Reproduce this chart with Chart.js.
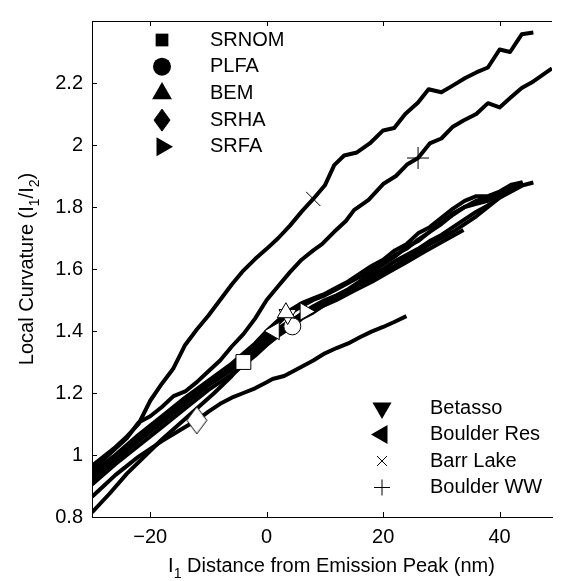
<!DOCTYPE html>
<html>
<head>
<meta charset="utf-8">
<script src="https://cdn.jsdelivr.net/npm/chart.js@4.4.1/dist/chart.umd.min.js"></script>
<style>
  html, body { margin: 0; padding: 0; background: #fff; }
  #wrap { width: 566px; height: 581px; }
</style>
</head>
<body>
<div id="wrap"><canvas id="curvatureChart"></canvas></div>
<script>
// Samples, drawn in this order
var sampleNames = ['SRNOM', 'PLFA', 'BEM', 'SRHA', 'SRFA', 'Betasso', 'Boulder Res', 'Barr Lake', 'Boulder WW'];

// [distance from emission peak (nm), local curvature I1/I2]
var srnom = [[-30,0.93],[-26,0.995],[-22,1.06],[-18,1.12],[-14,1.18],[-10,1.235],[-6,1.28],[-4,1.30],[-2,1.33],[0,1.36],[2,1.39],[4,1.42],[6,1.45],[8,1.47],[10,1.49],[12,1.51],[14,1.53],[16,1.555],[18,1.58],[20,1.60],[22,1.625],[24,1.645],[26,1.665],[28,1.69],[30,1.71],[32,1.735],[34,1.76],[36,1.785],[38,1.805],[40,1.83],[42,1.85],[44,1.87],[45.8,1.879]];
var plfa = [[-30,0.905],[-26,0.97],[-22,1.03],[-18,1.09],[-14,1.15],[-10,1.21],[-6,1.26],[-2,1.32],[0,1.355],[2,1.385],[4.4,1.415],[6,1.44],[8,1.46],[10,1.485],[12,1.505],[14,1.525],[16,1.545],[18,1.57],[20,1.59],[22,1.61],[24,1.635],[26,1.655],[28,1.68],[30,1.70],[32,1.72],[34,1.745],[36,1.77],[38,1.80],[40,1.83],[42,1.86],[43.8,1.875]];
var bem = [[-30,0.943],[-26,1.0],[-22,1.065],[-18,1.125],[-14,1.185],[-10,1.24],[-6,1.295],[-2,1.36],[0,1.40],[2,1.435],[3.3,1.459],[6,1.49],[8,1.505],[10,1.52],[12,1.54],[14,1.56],[16,1.585],[18,1.61],[20,1.63],[22,1.66],[24,1.68],[26,1.715],[28,1.735],[30,1.765],[32,1.795],[34,1.82],[36,1.835],[38,1.835],[40,1.85],[42,1.872],[43.8,1.879]];
var srha = [[-30,0.865],[-28,0.9],[-26,0.935],[-24,0.965],[-22,0.995],[-20,1.02],[-18,1.045],[-16,1.068],[-14,1.09],[-12,1.112],[-10,1.14],[-8,1.165],[-6,1.185],[-4,1.2],[-2,1.215],[0,1.235],[1,1.245],[3,1.255],[6,1.285],[8,1.305],[10,1.328],[12,1.345],[14,1.36],[16,1.38],[18,1.398],[20,1.413],[22,1.43],[24,1.448]];
var srfa = [[-30,0.918],[-26,0.98],[-22,1.045],[-18,1.105],[-14,1.165],[-10,1.225],[-6,1.275],[-2,1.335],[0,1.37],[2,1.40],[4,1.43],[6.6,1.463],[8,1.48],[10,1.50],[12,1.515],[14,1.535],[16,1.56],[18,1.59],[20,1.615],[22,1.64],[24,1.67],[26,1.69],[28,1.72],[30,1.745],[32,1.775],[34,1.80],[36,1.81],[38,1.82],[40,1.84],[42,1.86],[44,1.875]];
var betasso = [[-30,0.925],[-26,0.99],[-22,1.055],[-18,1.11],[-14,1.17],[-10,1.23],[-6,1.29],[-2,1.35],[0,1.39],[2,1.425],[3.6,1.453],[6,1.48],[8,1.50],[10,1.515],[12,1.535],[14,1.555],[16,1.575],[18,1.60],[20,1.62],[22,1.645],[24,1.665],[26,1.695],[28,1.72],[30,1.75],[32,1.78],[34,1.80],[36,1.82],[38,1.83],[40,1.845],[42,1.865],[44,1.88]];
var boulderRes = [[-30,0.815],[-27,0.875],[-24,0.94],[-21,0.995],[-18,1.05],[-15,1.10],[-12,1.15],[-9,1.20],[-6,1.255],[-3,1.315],[0,1.375],[1.3,1.40],[3,1.42],[6,1.45],[9,1.475],[12,1.50],[15,1.53],[18,1.558],[21,1.59],[24,1.622],[27,1.655],[30,1.686],[33.8,1.726]];
var barrLake = [[-30,0.965],[-28,0.995],[-26,1.025],[-24,1.06],[-22,1.10],[-20,1.175],[-18,1.23],[-16,1.28],[-14,1.355],[-12,1.405],[-10,1.45],[-8,1.50],[-6,1.55],[-4,1.595],[-2,1.632],[0,1.665],[2,1.70],[4,1.74],[6,1.785],[8,1.826],[10,1.87],[11.6,1.935],[13.3,1.966],[15.5,1.976],[17.7,2.005],[20,2.047],[21.9,2.055],[23.8,2.10],[26,2.137],[27.8,2.18],[30,2.17],[31.8,2.19],[34.1,2.216],[36,2.234],[38,2.25],[40,2.308],[41.8,2.30],[43.8,2.357],[45.8,2.363]];
var boulderWW = [[-30,0.955],[-28,0.985],[-26,1.02],[-24,1.055],[-22,1.105],[-20,1.125],[-18,1.155],[-16,1.19],[-14,1.205],[-12,1.235],[-10,1.27],[-8,1.305],[-6,1.35],[-4,1.39],[-2,1.44],[0,1.50],[2,1.545],[4,1.59],[6,1.63],[8,1.66],[9.5,1.68],[11.6,1.72],[13.6,1.755],[15,1.79],[17.5,1.823],[20,1.874],[22.2,1.90],[24.1,1.937],[26,1.958],[28,2.005],[30,2.021],[31.9,2.058],[33.8,2.079],[36,2.10],[38,2.135],[40,2.121],[41.9,2.153],[43.8,2.184],[45.8,2.205],[49,2.247]];

var curves = [srnom, plfa, bem, srha, srfa, betasso, boulderRes, barrLake, boulderWW];
// which sample point carries the sample's marker
var markerIdx = [7, 10, 10, 9, 11, 10, 11, 19, 28];

var xTicks = [-20, 0, 20, 40];
var yTicks = [0.8, 1, 1.2, 1.4, 1.6, 1.8, 2, 2.2];

// marker look per sample ('diamond' is a tall MATLAB style diamond, made below)
var markerStyle = ['rect', 'circle', 'triangle', 'diamond', 'triangle', 'triangle', 'triangle', 'crossRot', 'cross'];
var markerRotation = [0, 0, 0, 0, 90, 180, 270, 0, 0];
var markerRadius = [10.5, 8.5, 10, 13, 10, 10, 10, 10, 11];
var legendRadius = [9, 9, 11.5, 11, 11, 11, 11, 7, 8];
// draw order of markers on the plot, first one ends up on top
var markerOrder = [4, 2, 5, 6, 0, 3, 7, 8, 1];

var legendTop = [0, 1, 2, 3, 4];
var legendBottom = [5, 6, 7, 8];

var FONT = '"Liberation Sans", Arial, Helvetica, sans-serif';

function diamondCanvas(halfW, halfH, fill) {
    var c = document.createElement('canvas');
    c.width = halfW * 2 + 2;
    c.height = halfH * 2 + 2;
    var g = c.getContext('2d');
    g.beginPath();
    g.moveTo(halfW + 1, 1);
    g.lineTo(halfW * 2 + 1, halfH + 1);
    g.lineTo(halfW + 1, halfH * 2 + 1);
    g.lineTo(1, halfH + 1);
    g.closePath();
    g.fillStyle = fill;
    g.fill();
    g.strokeStyle = '#000';
    g.lineWidth = 1;
    g.stroke();
    return c;
}
var plotDiamond = diamondCanvas(10, 13.5, '#fff');
var legendDiamond = diamondCanvas(8, 11, '#000');

var datasets = [];
markerOrder.forEach(function (i) {
    var p = curves[i][markerIdx[i]];
    var isCross = markerStyle[i].indexOf('cross') === 0;
    datasets.push({
        type: 'scatter',
        label: sampleNames[i] + ' marker',
        data: [{x: p[0], y: p[1]}],
        pointStyle: markerStyle[i] === 'diamond' ? plotDiamond : markerStyle[i],
        rotation: markerRotation[i],
        pointRadius: markerRadius[i],
        backgroundColor: isCross ? 'rgba(0,0,0,0)' : '#fff',
        borderColor: '#000',
        borderWidth: 1,
        order: 0
    });
});
curves.forEach(function (c, i) {
    datasets.push({
        type: 'line',
        label: sampleNames[i],
        data: c.map(function (p) { return {x: p[0], y: p[1]}; }),
        borderColor: '#000',
        borderWidth: 4,
        borderJoinStyle: 'round',
        pointRadius: 0,
        fill: false,
        tension: 0,
        clip: 0,
        order: 1
    });
});

// text with subscripts, parts = [[text, isSub], ...]
function richWidth(ctx, parts) {
    var w = 0;
    parts.forEach(function (p) {
        ctx.font = (p[1] ? '14px ' : '20px ') + FONT;
        w += ctx.measureText(p[0]).width;
    });
    return w;
}
function drawRich(ctx, parts, x, y) {
    var cx = x;
    parts.forEach(function (p) {
        ctx.font = (p[1] ? '14px ' : '20px ') + FONT;
        ctx.fillText(p[0], cx, p[1] ? y + 6 : y);
        cx += ctx.measureText(p[0]).width;
    });
}

var xTitle = [['I', false], ['1', true], [' Distance from Emission Peak (nm)', false]];
var yTitle = [['Local Curvature (I', false], ['1', true], ['/I', false], ['2', true], [')', false]];

var decorations = {
    id: 'decorations',
    afterDraw: function (chart) {
        var ctx = chart.ctx, a = chart.chartArea;
        var x = chart.scales.x, y = chart.scales.y;
        ctx.save();

        // top frame line and inward ticks
        ctx.strokeStyle = '#000';
        ctx.lineWidth = 1;
        ctx.beginPath();
        ctx.moveTo(a.left, a.top + 0.5);
        ctx.lineTo(a.right, a.top + 0.5);
        xTicks.forEach(function (v) {
            var px = Math.round(x.getPixelForValue(v)) + 0.5;
            ctx.moveTo(px, a.bottom); ctx.lineTo(px, a.bottom - 5);
            ctx.moveTo(px, a.top); ctx.lineTo(px, a.top + 5);
        });
        yTicks.forEach(function (v) {
            var py = Math.round(y.getPixelForValue(v)) + 0.5;
            ctx.moveTo(a.left, py); ctx.lineTo(a.left + 5, py);
        });
        ctx.stroke();

        // axis titles
        ctx.fillStyle = '#000';
        ctx.textBaseline = 'alphabetic';
        ctx.textAlign = 'left';
        var w = richWidth(ctx, xTitle);
        drawRich(ctx, xTitle, (a.left + 571) / 2 - w / 2, 572);

        ctx.save();
        ctx.translate(33, (a.top + a.bottom) / 2);
        ctx.rotate(-Math.PI / 2);
        w = richWidth(ctx, yTitle);
        drawRich(ctx, yTitle, -w / 2, 0);
        ctx.restore();

        // the two legends
        function legend(list, mx, tx, y0, dy) {
            list.forEach(function (i, k) {
                var yy = y0 + k * dy;
                var isCross = markerStyle[i].indexOf('cross') === 0;
                ctx.fillStyle = '#000';
                ctx.strokeStyle = '#000';
                ctx.lineWidth = 1;
                if (markerStyle[i] === 'diamond') {
                    ctx.drawImage(legendDiamond, mx - legendDiamond.width / 2, yy - legendDiamond.height / 2);
                } else {
                    Chart.helpers.drawPoint(ctx, {
                        pointStyle: markerStyle[i],
                        rotation: markerRotation[i],
                        radius: legendRadius[i],
                        borderWidth: isCross ? 1 : 0
                    }, mx, yy);
                }
                ctx.font = '20px ' + FONT;
                ctx.textBaseline = 'middle';
                ctx.textAlign = 'left';
                ctx.fillText(sampleNames[i], tx, yy);
            });
        }
        legend(legendTop, 162, 210, 40, 26.7);
        legend(legendBottom, 382, 430, 408, 26.5);

        ctx.restore();
    }
};

var ctx = document.getElementById('curvatureChart').getContext('2d');
var chart = new Chart(ctx, {
    data: { datasets: datasets },
    options: {
        responsive: true,
        maintainAspectRatio: false,
        animation: false,
        layout: { padding: { top: 9, right: 0, left: 0, bottom: 0 } },
        plugins: {
            legend: { display: false },
            tooltip: { enabled: false }
        },
        scales: {
            x: {
                type: 'linear',
                min: -30,
                max: 49,
                grid: { display: false, drawTicks: false },
                border: { display: true, color: '#000', width: 1 },
                ticks: {
                    color: '#000',
                    padding: 8,
                    maxRotation: 0,
                    font: { family: FONT, size: 20 },
                    callback: function (v) { return v < 0 ? '\u2212' + Math.abs(v) : String(v); }
                },
                afterBuildTicks: function (s) { s.ticks = xTicks.map(function (v) { return {value: v}; }); },
                afterFit: function (s) { s.height = 64; }
            },
            y: {
                type: 'linear',
                min: 0.8,
                max: 2.4,
                grid: { display: false, drawTicks: false },
                border: { display: true, color: '#000', width: 1 },
                ticks: {
                    color: '#000',
                    padding: 9,
                    font: { family: FONT, size: 20 },
                    callback: function (v) { return String(Number(v.toFixed(1))); }
                },
                afterBuildTicks: function (s) { s.ticks = yTicks.map(function (v) { return {value: v}; }); },
                afterFit: function (s) { s.width = 92; }
            }
        }
    },
    plugins: [decorations]
});
</script>
</body>
</html>
